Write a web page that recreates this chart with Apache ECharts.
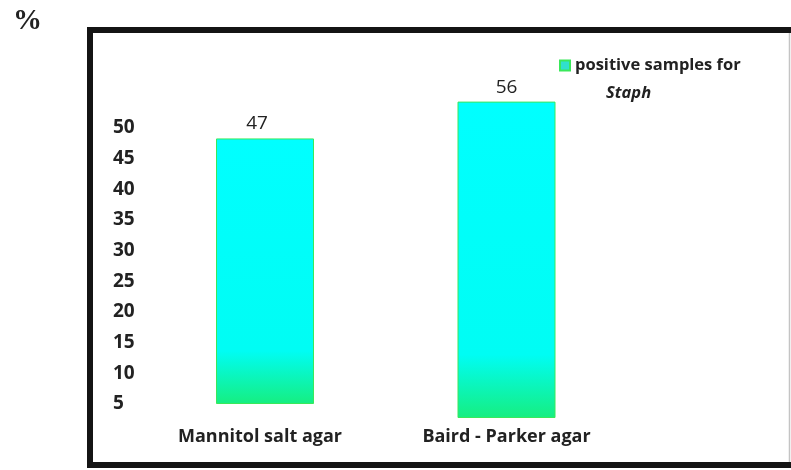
<!DOCTYPE html>
<html>
<head>
<meta charset="utf-8">
<script src="https://cdn.jsdelivr.net/npm/echarts@6/dist/echarts.min.js"></script>
<style>html,body{margin:0;padding:0;background:#fff;}#c{width:791px;height:470px;}</style>
</head>
<body>
<div id="c"></div>
<script>
const categories = ['Mannitol salt agar', 'Baird - Parker agar'];
const values = [47, 56];
const seriesName = 'positive samples for Staph';
const yTickMin = 5;
const yTickMax = 50;
const yTickStep = 5;

const chart = echarts.init(document.getElementById('c'));
const barColor = new echarts.graphic.LinearGradient(0, 0, 0, 1, [
  { offset: 0, color: '#00ffff' },
  { offset: 0.8, color: '#00fdf4' },
  { offset: 1, color: '#16ee80' }
]);
const labelFont = 'Open Sans';
const valueLabelOffsets = [[-8, 0], [0, 0]];
function barSeries(i) {
  return {
    type: 'bar',
    name: seriesName,
    xAxisIndex: i,
    yAxisIndex: i,
    barWidth: 98,
    data: [values[i]],
    itemStyle: { color: barColor, borderColor: '#3ae85a', borderWidth: 1 },
    label: {
      show: true, position: 'top', distance: 5, offset: valueLabelOffsets[i],
      fontFamily: labelFont, fontSize: 19, color: '#222', fontWeight: 'normal'
    }
  };
}
chart.setOption({
  animation: false,
  backgroundColor: '#fff',
  title: {
    text: '%', left: 8, top: 2,
    textStyle: { fontFamily: 'Liberation Serif', fontWeight: 'bold', fontSize: 29, color: '#222' }
  },
  legend: {
    left: 554, top: 52,
    icon: 'rect', itemWidth: 10, itemHeight: 10, itemGap: 6,
    data: [{ name: seriesName, itemStyle: { color: '#30e0cc' } }],
    formatter: function () { return '{a|positive samples for}\n{i|Staph}'; },
    textStyle: {
      padding: [28, 0, 0, 0],
      rich: {
        a: { fontFamily: labelFont, fontWeight: 'bold', fontSize: 16.5, color: '#222', lineHeight: 28 },
        i: { fontFamily: labelFont, fontWeight: 'bold', fontStyle: 'italic', fontSize: 16.5, color: '#222', lineHeight: 28, padding: [0, 0, 0, 31] }
      }
    }
  },
  graphic: [
    { type: 'rect', shape: { x: 90, y: 30, width: 720, height: 435 }, style: { fill: 'none', stroke: '#141414', lineWidth: 6 }, z: 100 },
    { type: 'line', shape: { x1: 789.5, y1: 33, x2: 789.5, y2: 462 }, style: { stroke: '#c4c4c4', lineWidth: 1.5 }, z: 100 }
  ],
  grid: [
    { left: 166, width: 198, top: 65, bottom: 66 },
    { left: 407.5, width: 198, top: 79, bottom: 52 },
    { left: 121, width: 10, top: 128, bottom: 66 }
  ],
  xAxis: [
    { type: 'category', gridIndex: 0, data: [categories[0]], axisLine: { show: false }, axisTick: { show: false },
      axisLabel: { margin: 24, padding: [0, 10, 0, 0], fontFamily: labelFont, fontWeight: 'bold', fontSize: 18, color: '#222' } },
    { type: 'category', gridIndex: 1, data: [categories[1]], axisLine: { show: false }, axisTick: { show: false },
      axisLabel: { margin: 10, fontFamily: labelFont, fontWeight: 'bold', fontSize: 18, color: '#222' } },
    { type: 'category', gridIndex: 2, data: [''], show: false }
  ],
  yAxis: [
    { type: 'value', gridIndex: 0, min: 0, max: 60, show: false },
    { type: 'value', gridIndex: 1, min: 0, max: 60, show: false },
    { type: 'value', gridIndex: 2, min: yTickMin, max: yTickMax, interval: yTickStep,
      axisLine: { show: false }, axisTick: { show: false }, splitLine: { show: false },
      axisLabel: { align: 'left', margin: 8, fontFamily: labelFont, fontWeight: 'bold', fontSize: 19, color: '#222' } }
  ],
  series: [barSeries(0), barSeries(1)]
});
</script>
</body>
</html>
